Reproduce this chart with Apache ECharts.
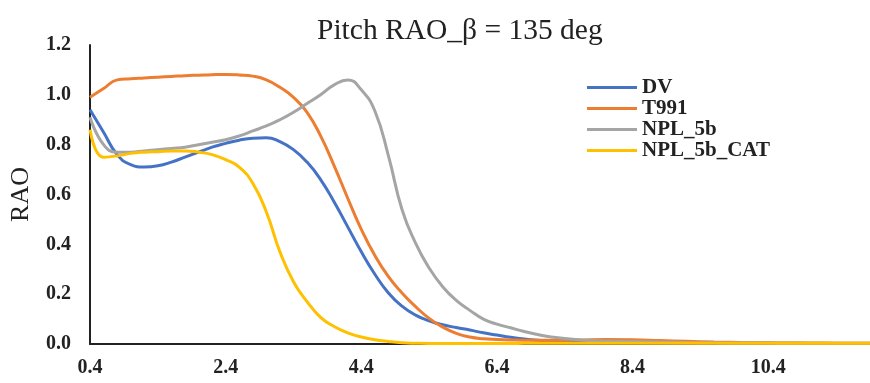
<!DOCTYPE html>
<html>
<head>
<meta charset="utf-8">
<script src="https://cdn.jsdelivr.net/npm/echarts@6/dist/echarts.min.js"></script>
<style>
html,body{margin:0;padding:0;background:#fff;}
#chart{width:870px;height:383px;}
</style>
</head>
<body>
<div id="chart"></div>
<script>
var titleText = 'Pitch RAO_\u03b2 = 135 deg';
var seriesNames = ['DV', 'T991', 'NPL_5b', 'NPL_5b_CAT'];
var xs = [0.4,0.6,0.8,1.0,1.2,1.4,1.6,1.8,2.0,2.2,2.4,2.6,2.8,3.0,3.2,3.4,3.6,3.8,4.0,4.2,4.4,4.6,4.8,5.0,5.2,5.4,5.6,5.8,6.0,6.2,6.4,6.6,6.8,7.0,7.2,
          7.6,8.0,8.4,8.8,9.2,9.6,10.0,10.4,10.8,11.2,11.6,12.0];
var dv = [0.94,0.85,0.76,0.72,0.71,0.715,0.73,0.75,0.77,0.79,0.805,0.818,0.826,0.828,0.812,0.78,0.73,0.66,0.57,0.47,0.37,0.28,0.205,0.152,0.116,0.093,0.077,0.066,0.056,0.045,0.036,0.027,0.02,0.015,0.012,
          0.009,0.007,0.006,0.005,0.004,0.004,0.003,0.003,0.003,0.002,0.002,0.002];
var t991 = [0.99,1.025,1.06,1.065,1.068,1.071,1.074,1.077,1.079,1.081,1.082,1.08,1.075,1.06,1.03,0.99,0.93,0.835,0.715,0.585,0.46,0.355,0.27,0.205,0.15,0.103,0.068,0.043,0.028,0.021,0.018,0.016,0.015,0.015,0.015,
          0.016,0.018,0.017,0.014,0.011,0.008,0.006,0.005,0.004,0.004,0.003,0.003];
var npl5b = [0.91,0.80,0.77,0.77,0.775,0.78,0.785,0.79,0.80,0.81,0.82,0.835,0.855,0.875,0.90,0.93,0.965,1.0,1.04,1.06,1.02,0.935,0.755,0.54,0.405,0.305,0.23,0.175,0.135,0.10,0.08,0.065,0.05,0.038,0.028,
          0.017,0.012,0.01,0.008,0.006,0.005,0.004,0.004,0.003,0.003,0.003,0.003];
var npl5bCat = [0.86,0.75,0.755,0.765,0.77,0.772,0.775,0.775,0.77,0.76,0.74,0.71,0.645,0.53,0.37,0.25,0.17,0.107,0.07,0.045,0.028,0.017,0.01,0.005,0.003,0.002,0.002,0.002,0.002,0.002,0.002,0.002,0.003,0.003,0.003,
          0.003,0.003,0.003,0.003,0.003,0.003,0.003,0.003,0.003,0.003,0.003,0.003];
var colors = ['#4472C4', '#ED7D31', '#A5A5A5', '#FFC000'];
var allY = [dv, t991, npl5b, npl5bCat];

var font = '"Liberation Serif", "Times New Roman", serif';
var chart = echarts.init(document.getElementById('chart'));

function pairs(ys) {
  return xs.map(function (x, i) { return [x, ys[i]]; });
}

var series = seriesNames.map(function (name, i) {
  return {
    name: name,
    type: 'line',
    data: pairs(allY[i]),
    smooth: 0.5,
    symbol: 'none',
    lineStyle: { color: colors[i], width: 3 },
    itemStyle: { color: colors[i] }
  };
});

chart.setOption({
  animation: false,
  backgroundColor: '#fff',
  title: {
    text: titleText,
    left: 312,
    top: 11,
    textStyle: { fontFamily: font, fontSize: 29.5, fontWeight: 'normal', color: '#222' }
  },
  legend: {
    orient: 'vertical',
    left: 582,
    top: 72,
    itemWidth: 50,
    itemHeight: 3,
    itemGap: 0,
    icon: 'rect',
    data: seriesNames,
    textStyle: { fontFamily: font, fontSize: 21, fontWeight: 'bold', color: '#222', lineHeight: 20.7 }
  },
  grid: { left: 86, right: 0, top: 45, bottom: 39, containLabel: false },
  xAxis: {
    type: 'value',
    min: 0.4,
    max: 11.9,
    interval: 2,
    axisLine: { show: true, lineStyle: { color: '#222', width: 2 } },
    axisTick: { show: false },
    splitLine: { show: false },
    axisLabel: {
      showMaxLabel: false,
      margin: 14,
      fontFamily: font, fontSize: 20, fontWeight: 'bold', color: '#222',
      formatter: function (v) { return v.toFixed(1); }
    }
  },
  yAxis: {
    type: 'value',
    min: 0,
    max: 1.2,
    interval: 0.2,
    name: 'RAO',
    nameLocation: 'middle',
    nameGap: 56,
    nameTextStyle: { fontFamily: font, fontSize: 26, color: '#222' },
    axisLine: { show: true, lineStyle: { color: '#222', width: 2 } },
    axisTick: { show: false },
    splitLine: { show: false },
    axisLabel: {
      margin: 19,
      fontFamily: font, fontSize: 20, fontWeight: 'bold', color: '#222',
      formatter: function (v) { return v.toFixed(1); }
    }
  },
  series: series
});
</script>
</body>
</html>
